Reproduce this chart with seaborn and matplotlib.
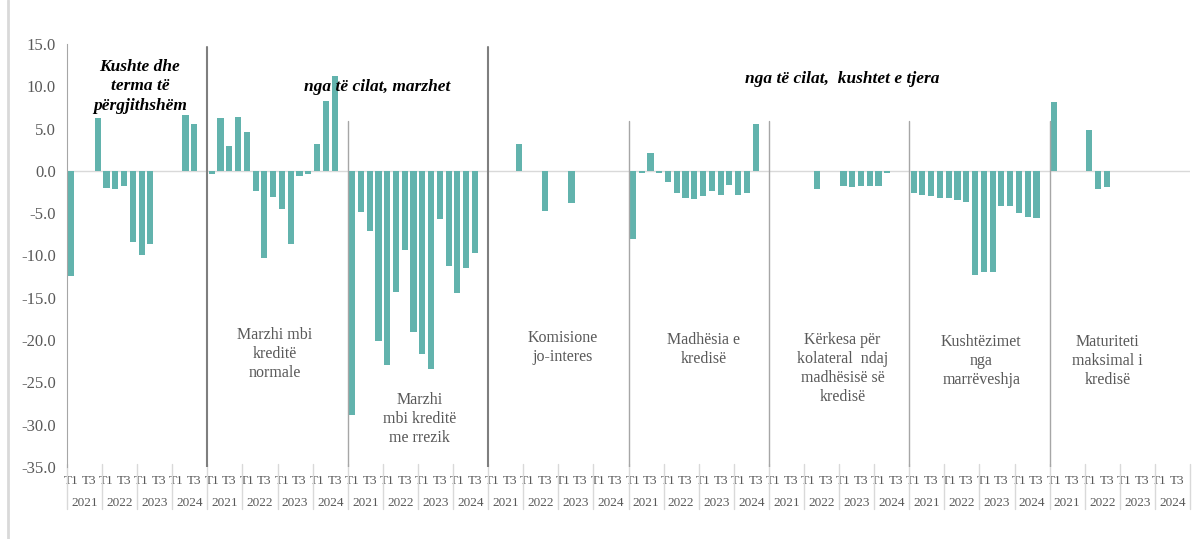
import matplotlib
matplotlib.use("Agg")
import matplotlib.pyplot as plt
from matplotlib.lines import Line2D
import numpy as np
import pandas as pd
import seaborn as sns

# quarters 2021 T1 .. 2024 T4 for every block (None = not yet available)
years = ["2021", "2022", "2023", "2024"]
quarters = ["T1", "T2", "T3", "T4"]

general = [-12.4, 0, 0, 6.3, -2.0, -2.1, -1.8, -8.4, -9.9, -8.7, 0, 0, 0, 6.6, 5.6, None]
margin_normal = [-0.4, 6.2, 3.0, 6.4, 4.6, -2.4, -10.3, -3.1, -4.5, -8.6, -0.6, -0.4, 3.2, 8.3, 11.2, None]
margin_risky = [-28.9, -4.9, -7.1, -20.1, -23.0, -14.3, -9.4, -19.0, -21.6, -23.4, -5.7, -11.3, -14.4, -11.5, -9.7, None]
fees = [0, 0, 0, 3.2, 0, 0, -4.8, 0, 0, -3.8, 0, 0, 0, 0, 0, None]
loan_size = [-8.0, -0.3, 2.1, -0.3, -1.3, -2.6, -3.2, -3.35, -3.0, -2.4, -2.8, -1.7, -2.9, -2.6, 5.6, None]
collateral = [0, 0, 0, 0, 0, -2.1, 0, 0, -1.8, -1.85, -1.8, -1.8, -1.8, -0.2, 0, None]
covenants = [-2.6, -2.9, -3.0, -3.2, -3.2, -3.4, -3.7, -12.3, -11.9, -11.9, -4.1, -4.2, -5.0, -5.5, -5.6, None]
maturity = [8.1, 0, 0, 0, 4.8, -2.1, -1.85, 0, 0, 0, 0, 0, 0, 0, 0, None]

blocks = [general, margin_normal, margin_risky, fees, loan_size, collateral, covenants, maturity]
block_labels = [
    None,
    "Marzhi mbi\nkreditë\nnormale",
    "Marzhi\nmbi kreditë\nme rrezik",
    "Komisione\njo-interes",
    "Madhësia e\nkredisë",
    "Kërkesa për\nkolateral  ndaj\nmadhësisë së\nkredisë",
    "Kushtëzimet\nnga\nmarrëveshja",
    "Maturiteti\nmaksimal i\nkredisë",
]

rows = []
for b, vals in enumerate(blocks):
    for i, v in enumerate(vals):
        rows.append({"slot": b * 16 + i, "value": np.nan if v is None else v})
df = pd.DataFrame(rows)
n_slots = 16 * len(blocks)

sns.set_style("white")
plt.rcParams["font.family"] = ["Liberation Serif", "DejaVu Serif"]

fig = plt.figure(figsize=(12.03, 5.39), dpi=100)
ax = fig.add_axes([0.0557, 0.1336, 0.9335, 0.7848])

sns.barplot(data=df, x="slot", y="value", order=list(range(n_slots)),
            color="#62b3ad", saturation=1, width=0.7, errorbar=None,
            linewidth=0, ax=ax)

ax.set_ylim(-35, 15)
ax.set_xlim(-0.5, n_slots - 0.5)
ax.set_yticks(np.arange(-35, 15.1, 5))
ax.set_yticklabels([f"{t:.1f}" for t in np.arange(-35, 15.1, 5)])
ax.tick_params(axis="y", direction="in", length=4, color="#a6a6a6",
               labelsize=12, labelcolor="#595959", pad=8)
ax.set_xlabel("")
ax.set_ylabel("")
for s in ["top", "right", "bottom"]:
    ax.spines[s].set_visible(False)
ax.spines["left"].set_color("#a6a6a6")
ax.axhline(0, color="#d9d9d9", lw=1, zorder=0)

# two-level category axis
tpos, tlab = [], []
for b in range(len(blocks)):
    for y in range(4):
        tpos += [b * 16 + y * 4, b * 16 + y * 4 + 2]
        tlab += ["T1", "T3"]
ax.set_xticks(tpos)
ax.set_xticklabels(tlab)
ax.tick_params(axis="x", length=0, labelsize=9.5, labelcolor="#595959", pad=6)

xt = ax.get_xaxis_transform()
for b in range(len(blocks)):
    for y, yr in enumerate(years):
        ax.text(b * 16 + y * 4 + 1.5, -0.085, yr, transform=xt, ha="center", va="center",
                fontsize=9.5, color="#595959")
for k in range(n_slots // 4 + 1):
    ax.plot([k * 4 - 0.5] * 2, [0.008, -0.1], transform=xt, color="#d9d9d9",
            lw=1, clip_on=False)

# block separators
for b in range(1, len(blocks)):
    x = b * 16 - 0.5
    if b in (1, 3):
        ax.plot([x, x], [14.6, -35], color="#7f7f7f", lw=1.5, zorder=3)
    else:
        ax.plot([x, x], [5.9, -35], color="#a6a6a6", lw=1, zorder=3)

# headings
head = dict(fontsize=12.5, fontweight="bold", fontstyle="italic", color="black",
            ha="center", va="center")
ax.text(7.8, 10.0, "Kushte dhe\nterma të\npërgjithshëm", linespacing=1.3, **head)
ax.text(34.9, 9.9, "nga të cilat, marzhet", **head)
ax.text(87.9, 10.9, "nga të cilat,  kushtet e tjera", **head)

label_pos = [None, (23.2, -21.6), (39.7, -29.3), (56.0, -20.9), (72.1, -21.1),
             (87.9, -23.3), (103.7, -22.5), (118.1, -22.5)]
for lab, pos in zip(block_labels, label_pos):
    if lab is None:
        continue
    ax.text(pos[0], pos[1], lab, ha="center", va="center", fontsize=11.5,
            color="#595959", linespacing=1.25)

fig.add_artist(Line2D([8 / 1203, 8 / 1203], [0, 1], color="#d9d9d9", lw=2))

fig.savefig("out.png", dpi=100, facecolor="white")
